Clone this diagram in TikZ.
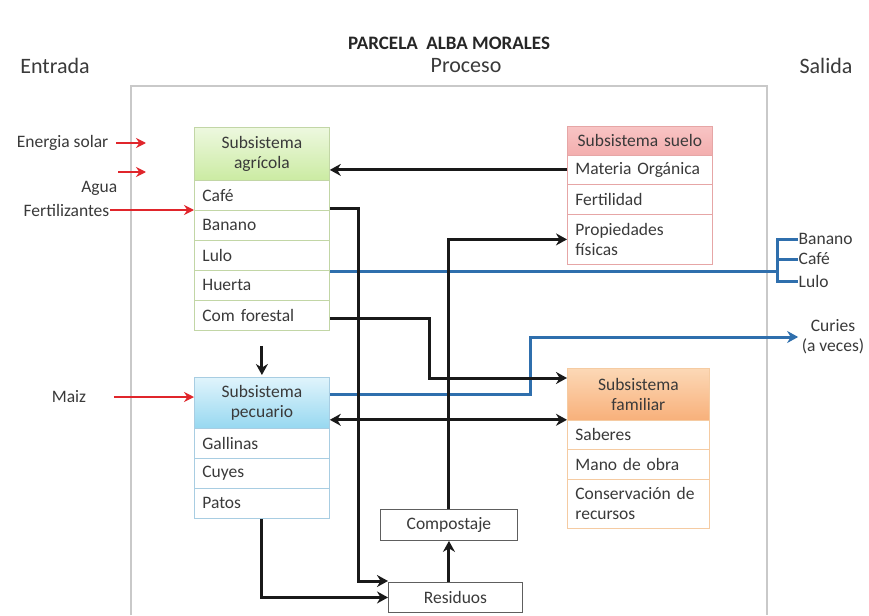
\documentclass[tikz,border=0pt]{standalone}
\usepackage{fontspec}
\setmainfont{Carlito}
\usetikzlibrary{arrows.meta,calc}
\definecolor{txt}{HTML}{3A3A3A}
\definecolor{frame}{HTML}{C9C9C9}
\definecolor{agb}{HTML}{C2D6A6}
\definecolor{agt}{HTML}{EDF8DF}
\definecolor{agbt}{HTML}{CBEBA2}
\definecolor{pecb}{HTML}{A8CDE2}
\definecolor{pect}{HTML}{E0F4FC}
\definecolor{pecbt}{HTML}{97D8F0}
\definecolor{suelob}{HTML}{E6A6A6}
\definecolor{suelot}{HTML}{F8C4C4}
\definecolor{suelobt}{HTML}{F3AEAE}
\definecolor{famb}{HTML}{F5CBA2}
\definecolor{famt}{HTML}{FCD8B6}
\definecolor{fambt}{HTML}{F8B07A}
\definecolor{bluec}{HTML}{2F6FAD}
\definecolor{redc}{HTML}{E0252B}
\definecolor{boxb}{HTML}{5E5E5E}
\tikzset{
  base/.style={font=\fontsize{17.5}{20}\selectfont, text=txt},
  big/.style={font=\fontsize{22}{26}\selectfont, text=txt},
  hdr/.style={base, anchor=north west, align=center, inner xsep=0pt, inner ysep=0pt, line width=0.8pt},
  cell/.style={base, anchor=north west, fill=white, align=left, inner xsep=8pt, inner ysep=0pt, minimum height=30pt, line width=0.8pt},
  agrow/.style={cell, draw=agb, text width=119pt},
  pecrow/.style={cell, draw=pecb, text width=119pt},
  suelorow/.style={cell, draw=suelob, text width=129pt},
  famrow/.style={cell, draw=famb, text width=126pt},
  plain/.style={base, anchor=north west, draw=boxb, fill=white, line width=0.9pt, inner sep=0pt},
  outtxt/.style={base, inner sep=0.5pt},
  blk/.style={draw=black!90, line width=3pt, -{Stealth[length=11pt,width=12pt]}},
  blkboth/.style={draw=black!90, line width=3pt, {Stealth[length=11pt,width=12pt]}-{Stealth[length=11pt,width=12pt]}},
  blu/.style={draw=bluec, line width=3pt},
  bluarr/.style={blu, -{Stealth[length=11pt,width=12pt]}},
  redarr/.style={draw=redc, line width=2.6pt, -{Stealth[length=10pt,width=10pt]}},
}
\begin{document}
\begin{tikzpicture}[x=1pt,y=-1pt]
\useasboundingbox (0,0) rectangle (869,615);
\fill[white] (0,0) rectangle (869,615);
% outer frame
\draw[frame, line width=1.2pt] (131,615) -- (131,86) -- (767,86) -- (767,615);

% titles
\node[font=\fontsize{19}{22}\selectfont\bfseries, text=black!85] (title) at (449,43) {PARCELA\ \ ALBA MORALES};
\node[big] (entrada) at (55,66) {Entrada};
\node[big] (proceso) at (466,66) {Proceso};
\node[big] (salida) at (826,66) {Salida};

% Subsistema agricola
\node[hdr, draw=agb, top color=agt, bottom color=agbt, text width=135pt, minimum height=53pt] (agh) at (194,127) {Subsistema\\agrícola};
\node[agrow] (cafe) at (194,180) {Café};
\node[agrow] (banano) at (194,210) {Banano};
\node[agrow] (lulo) at (194,240) {Lulo};
\node[agrow] (huerta) at (194,270) {Huerta};
\node[agrow] (cf) at (194,300) {Com forestal};

% Subsistema pecuario
\node[hdr, draw=pecb, top color=pect, bottom color=pecbt, text width=135pt, minimum height=51pt] (pech) at (194,377) {Subsistema\\pecuario};
\node[pecrow] (gall) at (194,428) {Gallinas};
\node[pecrow] (cuyes) at (194,458) {Cuyes};
\node[pecrow] (patos) at (194,488) {Patos};

% Subsistema suelo
\node[hdr, draw=suelob, top color=suelot, bottom color=suelobt, text width=145pt, minimum height=29pt] (sueh) at (567,126) {Subsistema suelo};
\node[suelorow, minimum height=29pt] (mo) at (567,155) {Materia Orgánica};
\node[suelorow] (fertil) at (567,184) {Fertilidad};
\node[suelorow, minimum height=50pt] (pf) at (567,214) {Propiedades\\físicas};

% Subsistema familiar
\node[hdr, draw=famb, top color=famt, bottom color=fambt, text width=142pt, minimum height=52pt] (famh) at (567,368) {Subsistema\\familiar};
\node[famrow, minimum height=29pt] (sab) at (567,420) {Saberes};
\node[famrow] (mano) at (567,449) {Mano de obra};
\node[famrow, minimum height=49pt] (cons) at (567,479) {Conservación de\\recursos};

% Compostaje / Residuos
\node[plain, minimum width=137pt, minimum height=31pt] (comp) at (380,509) {Compostaje};
\node[plain, minimum width=134pt, minimum height=30pt] (res) at (388,582) {Residuos};

% inputs (red)
\node[outtxt, anchor=east] (es) at (109,143) {Energia solar};
\coordinate (esx) at (146,143);
\draw[redarr] ([xshift=7pt]es.east) -- (esx);
\node[outtxt, anchor=east] (agua) at (118,188) {Agua};
\coordinate (ag1) at ([yshift=16pt]agua.east);
\coordinate (ag2) at (146,172);
\draw[redarr] (ag1) -- (ag2);
\node[outtxt, anchor=east] (fert) at (110,210) {Fertilizantes};
\draw[redarr] (fert.east) -- (fert.east -| cafe.south west);
\node[outtxt] (maiz) at (69,397) {Maiz};
\coordinate (mz) at ([xshift=27pt]maiz.east);
\draw[redarr] (mz) -- (mz -| pech.west);

% outputs (blue)
\node[outtxt, anchor=west] (oban) at (798,239) {Banano};
\node[outtxt, anchor=west] (ocaf) at (798,259) {Café};
\node[outtxt, anchor=west] (olul) at (798,281) {Lulo};
\coordinate (brk) at ($(oban.west)+(-21,0)$);
\coordinate (lulend) at ([yshift=-1pt]lulo.south east);
\draw[blu] (lulend) -- (lulend -| brk);
\draw[blu] (oban.west) -- (brk) |- (olul.west);
\draw[blu] (ocaf.west) -- (ocaf.west -| brk);

\node[outtxt, align=center] (curt) at (833,337) {Curies\\(a veces)};
\coordinate (pecout) at ([yshift=8pt]pech.east);
\draw[bluarr] (pecout) -- ++(201,0) |- ([xshift=-3pt]curt.west);

% internal flows (black)
\draw[blk] (mo.west) -- (mo.west -| agh.east);
\draw[blk] ([yshift=2pt]cafe.south east) -- ++(29,0) |- ([yshift=1pt]res.north west);
\draw[blk] (patos.south) |- (res.west);
\draw[blk] (res.north -| comp.south) -- (comp.south);
\draw[blk] (comp.north) |- (pf.west);
\draw[blk] ([yshift=-3pt]cf.east) -- ++(100,0) |- ([yshift=-10pt]famh.north west);
\coordinate (d1) at ([yshift=9pt]pech.south east);
\draw[blkboth] (d1) -- (d1 -| famh.west);
\draw[blk] ([yshift=-15pt]cf.south) -- ([yshift=2pt]pech.north);
\end{tikzpicture}
\end{document}
